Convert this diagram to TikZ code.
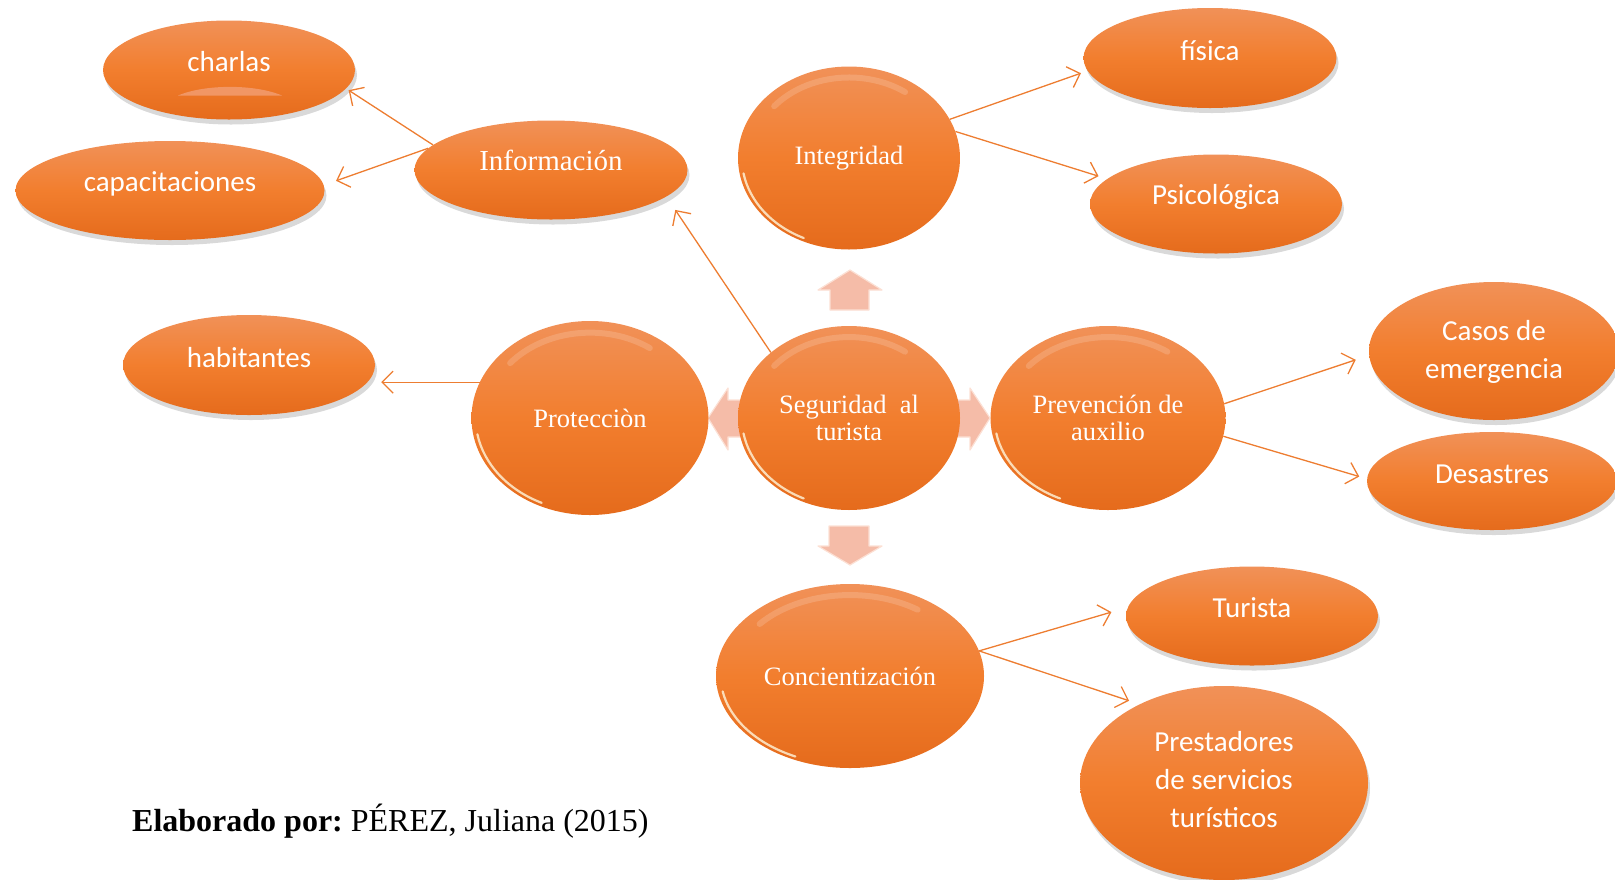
\documentclass[tikz,border=0pt]{standalone}
\usepackage{fontspec}
\setmainfont{Liberation Serif}
\newfontfamily\calibfont{Carlito}
\usetikzlibrary{arrows.meta,shadows,shapes.geometric,calc}
\frenchspacing
\definecolor{orA}{RGB}{241,145,88}
\definecolor{orB}{RGB}{242,126,46}
\definecolor{orC}{RGB}{229,107,28}
\definecolor{lineor}{RGB}{237,125,49}
\definecolor{blkfill}{RGB}{245,188,168}
\definecolor{blkhi}{RGB}{252,224,212}
\definecolor{lens}{RGB}{241,150,100}
\definecolor{glint}{RGB}{255,246,220}
\newcommand\glossyhl[3]{%
  \draw[glint, opacity=.8, line width=2.2pt, line cap=round]
    ([shift={(190:{0.965*#2pt} and {0.965*#3pt})}]#1.center)
    arc[start angle=190, end angle=245, x radius={0.965*#2pt}, y radius={0.965*#3pt}];
  \draw[white, opacity=.16, line width=6pt, line cap=round]
    ([shift={(55:{0.88*#2pt} and {0.88*#3pt})}]#1.center)
    arc[start angle=55, end angle=140, x radius={0.88*#2pt}, y radius={0.88*#3pt}];
}
\tikzset{
  bubble/.style={ellipse, inner sep=0pt, draw=none, top color=orA, bottom color=orC, middle color=orB},
  outerb/.style={bubble, drop shadow={shadow xshift=2pt, shadow yshift=-5pt, opacity=.3}},
  innerb/.style={bubble, text=white, align=center, font=\fontsize{26.5}{27}\selectfont},
  otext/.style={text=white, align=center, inner sep=0pt, font=\calibfont\fontsize{29}{38}\selectfont},
  conn/.style={draw=lineor, line width=1.3pt, -{Straight Barb[length=11pt,width=22pt]}},
  blockarrow/.style={fill=blkfill, draw=blkhi, line width=1.2pt, line join=round},
}
\begin{document}
\begin{tikzpicture}[x=1pt, y=-1pt]
\useasboundingbox (0,0) rectangle (1615,879);

% block arrows around the centre
\path[blockarrow] (830,310) -- (830,290) -- (818,290) -- (850,270) -- (882,290) -- (869,290) -- (869,310) -- cycle;
\path[blockarrow] (829,526) -- (869,526) -- (869,546) -- (882,546) -- (850,565) -- (818,546) -- (829,546) -- cycle;
\path[blockarrow] (745,400) -- (728,400) -- (728,388) -- (708,418) -- (728,450) -- (728,437) -- (745,437) -- cycle;
\path[blockarrow] (955,400) -- (970,400) -- (970,388) -- (990,418) -- (970,450) -- (970,437) -- (955,437) -- cycle;

% inner circles
\node[innerb, minimum width=222pt, minimum height=184pt] (seg) at (849,418) {Seguridad\ \ al\\turista};
\node[innerb, minimum width=222pt, minimum height=183pt] (integ) at (849,158) {Integridad};
\node[innerb, minimum width=237pt, minimum height=194pt] (prot) at (590,418) {Protecciòn};
\node[innerb, minimum width=235pt, minimum height=184pt] (prev) at (1108,418) {Prevención de\\auxilio};
\node[innerb, minimum width=268pt, minimum height=184pt] (conc) at (850,676) {Concientización};
\glossyhl{seg}{111}{92}
\glossyhl{integ}{111}{91.5}
\glossyhl{prot}{118.5}{97}
\glossyhl{prev}{117.5}{92}
\glossyhl{conc}{134}{92}

% Información
\node[outerb, minimum width=273pt, minimum height=99pt] (info) at (551,170) {};
\node[text=white, inner sep=0pt, font=\fontsize{29}{30}\selectfont] (infoT) at ([yshift=10pt]info.center) {Información};

% outer ellipses
\node[outerb, minimum width=252pt, minimum height=99pt] (charlas) at (229,70) {};
\fill[lens] (178,95.5) .. controls (205,84) and (255,84) .. (282,95.5) -- cycle;
\node[otext] (charlasT) at ([yshift=8pt]charlas.center) {charlas};

\node[outerb, minimum width=309pt, minimum height=99pt] (capac) at (170,190.5) {};
\node[otext] (capacT) at ([yshift=7pt]capac.center) {capacitaciones};

\node[outerb, minimum width=252pt, minimum height=100pt] (hab) at (249,365) {};
\node[otext] (habT) at ([yshift=7pt]hab.center) {habitantes};

\node[outerb, minimum width=253pt, minimum height=100pt] (fisica) at (1210,58) {};
\node[otext] (fisicaT) at ([yshift=7pt]fisica.center) {física};

\node[outerb, minimum width=252pt, minimum height=99pt] (psico) at (1216,204) {};
\node[otext] (psicoT) at ([yshift=7pt]psico.center) {Psicológica};

\node[outerb, minimum width=250pt, minimum height=138pt] (casos) at (1494,351) {};
\node[otext] (casosT) at ([yshift=-1pt]casos.center) {Casos de\\emergencia};

\node[outerb, minimum width=250pt, minimum height=98pt] (des) at (1492,481) {};
\node[otext] (desT) at ([yshift=7pt]des.center) {Desastres};

\node[outerb, minimum width=252pt, minimum height=99pt] (tur) at (1252,616) {};
\node[otext] (turT) at ([yshift=8pt]tur.center) {Turista};

\node[outerb, minimum width=288pt, minimum height=194pt] (prest) at (1224,783) {};
\node[otext] (prestT) at ([yshift=3pt]prest.center) {Prestadores\\de servicios\\turísticos};

% connectors
\draw[conn, shorten >=3pt] (info.168) -- (charlas.-9.3);
\draw[conn, shorten >=13pt] (info.170) -- (capac.2.7);
\draw[conn, shorten >=16pt] (seg.140) -- (info.-13.8);
\draw[conn, shorten >=6pt] (prot.162.5) -- (prot.162.5 -| hab.east);
\draw[conn, shorten >=7pt] (integ.21) -- (fisica.186.7);
\draw[conn, shorten >=9pt] (integ.14.6) -- (psico.167.7);
\draw[conn, shorten >=14pt] (prev.7.1) -- (casos.182);
\draw[conn, shorten >=8pt] (prev.-9.6) -- (des.179.1);
\draw[conn, shorten >=17pt] (conc.11.2) -- (tur.176.8);
\draw[conn, shorten >=11pt] (conc.11.2) -- (prest.137.7);

% caption
\node[anchor=base west, inner sep=0pt, font=\fontsize{32}{38}\selectfont] (cap) at (132,831) {\textbf{Elaborado por:} PÉREZ, Juliana (2015)};
\end{tikzpicture}
\end{document}
